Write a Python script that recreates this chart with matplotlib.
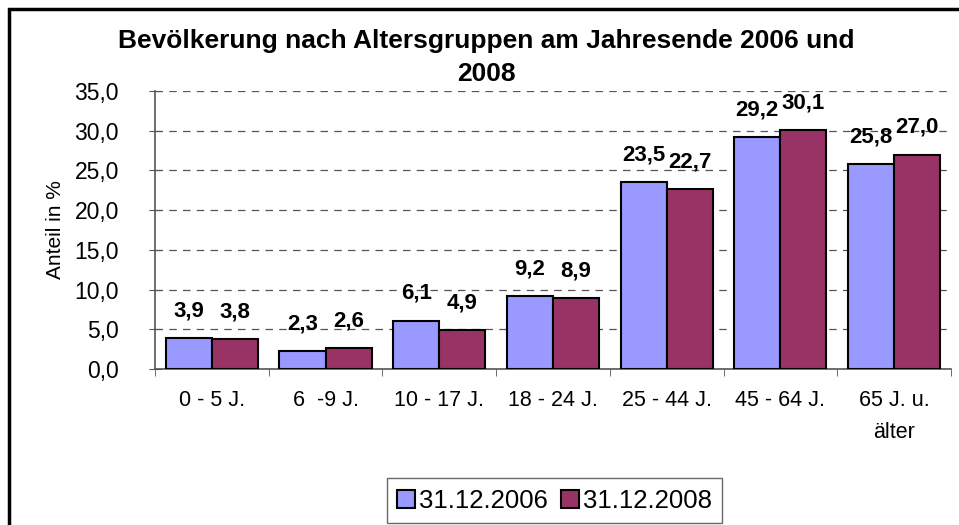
import matplotlib.pyplot as plt
import numpy as np
from matplotlib.patches import Rectangle

plt.rcParams['font.family'] = ['Liberation Sans', 'DejaVu Sans']

# Daten
gruppen = ['0 - 5 J.', '6  -9 J.', '10 - 17 J.', '18 - 24 J.', '25 - 44 J.', '45 - 64 J.', '65 J. u.\nälter']
werte_2006 = [3.9, 2.3, 6.1, 9.2, 23.5, 29.2, 25.8]
werte_2008 = [3.8, 2.6, 4.9, 8.9, 22.7, 30.1, 27.0]
serien = ['31.12.2006', '31.12.2008']
farben = ['#9999FF', '#993366']

fig = plt.figure(figsize=(9.59, 5.25), dpi=100)
ax = fig.add_axes([0.1616, 0.2971, 0.830, 0.5295])

x = np.arange(len(gruppen))
b = 0.405
balken1 = ax.bar(x - b / 2, werte_2006, b, color=farben[0], edgecolor='black', linewidth=1.5, label=serien[0], zorder=3)
balken2 = ax.bar(x + b / 2, werte_2008, b, color=farben[1], edgecolor='black', linewidth=1.5, label=serien[1], zorder=3)

for balken, werte in [(balken1, werte_2006), (balken2, werte_2008)]:
    for r, v in zip(balken, werte):
        ax.annotate(f"{v:.1f}".replace('.', ','), (r.get_x() + r.get_width() / 2, v),
                    xytext=(0, 12), textcoords='offset points', ha='center', va='bottom',
                    fontsize=16, fontweight='bold')

ax.set_xlim(-0.5, len(gruppen) - 0.5)
ax.set_ylim(0, 35)
ax.set_yticks(np.arange(0, 36, 5))
ax.set_yticklabels([f"{t:.1f}".replace('.', ',') for t in np.arange(0, 36, 5)], fontsize=16.5)
ax.set_xticks(x)
ax.set_xticklabels(gruppen, fontsize=15.5, linespacing=1.7)
ax.set_xticks(np.arange(-0.5, len(gruppen)), minor=True)
ax.tick_params(axis='x', which='major', length=0, pad=15)
ax.tick_params(axis='x', which='minor', length=5, color='#555555', direction='out')
ax.tick_params(axis='y', length=8, color='#555555', direction='inout', pad=22)

ax.yaxis.grid(True, linestyle=(0, (6, 5)), color='#555555', linewidth=0.9, zorder=0)
ax.set_axisbelow(True)
for s in ['top', 'right']:
    ax.spines[s].set_visible(False)
for s in ['left', 'bottom']:
    ax.spines[s].set_color('#555555')
    ax.spines[s].set_linewidth(1.2)

ax.set_ylabel('Anteil in %', fontsize=15, labelpad=7)

fig.text(0.507, 0.945, 'Bevölkerung nach Altersgruppen am Jahresende 2006 und\n2008',
         ha='center', va='top', fontsize=19, fontweight='bold', linespacing=1.5)

leg = fig.legend(loc='lower center', bbox_to_anchor=(0.578, 0.004), ncol=2, fontsize=18.5,
                 frameon=True, fancybox=False, edgecolor='#444444', handlelength=0.7,
                 handleheight=0.7, handletextpad=0.15, columnspacing=0.5, borderpad=0.4,
                 borderaxespad=0.0)
leg.get_frame().set_linewidth(1.0)

fig.patches.append(Rectangle((9 / 959, -0.1), 1.2, (525 - 9) / 525 + 0.1, transform=fig.transFigure,
                             fill=False, edgecolor='black', linewidth=2.5))

fig.savefig('out.png', dpi=100)
